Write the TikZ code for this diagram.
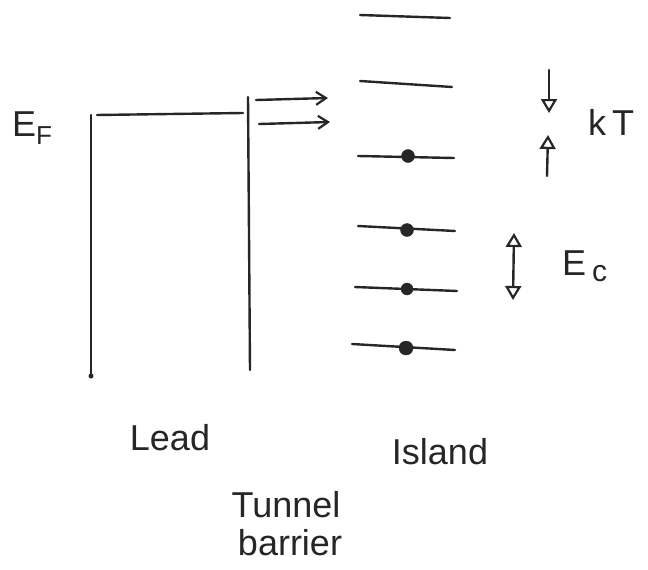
\documentclass[tikz,border=0pt]{standalone}
\usepackage{fontspec}
\setmainfont{Liberation Sans}
\usetikzlibrary{arrows.meta}
\begin{document}
\begin{tikzpicture}[x=1pt,y=-1pt,
  ink/.style={line width=2.4pt,draw=black!85,line cap=round},
  level/.style={ink},
  electron/.style={circle,fill=black!85,draw=black!85,inner sep=0pt,minimum size=13pt},
  inflow/.style={ink,-{Straight Barb[length=10pt,width=13pt,line width=2.2pt]}},
  gaparrow/.style={ink,-{Triangle[open,length=14pt,width=16pt,line width=2.2pt]}},
  lbl/.style={font=\fontsize{36}{38}\selectfont,text=black!85,inner sep=0pt}]
\useasboundingbox (0,0) rectangle (648,570);
% lead
\coordinate (lbl) at (91,376);
\coordinate (ltl) at (91,115);
\coordinate (ltr) at (243,113);
\coordinate (rtop) at (248,97);
\coordinate (rbot) at (250,370);
\draw[ink] (ltl) -- (lbl);
\fill[black!85] (lbl) circle (2.5);
\draw[ink] (97,115) -- (ltr);
\draw[ink] (rtop) -- (rbot);
% inflow arrows
\coordinate (a1s) at (256,100);
\coordinate (a1e) at (328,98);
\coordinate (a2s) at (259,124);
\coordinate (a2e) at (330,122);
\draw[inflow] (a1s) -- (a1e);
\draw[inflow] (a2s) -- (a2e);
% island levels
\foreach \n/\xa/\ya/\xb/\yb in {l1/360/15/450/18, l2/360/81/452/87, l3/358/156/454/158, l4/358/226/455/231, l5/355/287/457/291, l6/352/344/455/350}{
  \coordinate (\n a) at (\xa,\ya);
  \coordinate (\n b) at (\xb,\yb);
  \draw[level] (\n a) -- (\n b);
}
\node[electron] (e1) at (408,156) {};
\node[electron] (e2) at (407,230) {};
\node[electron,minimum size=12pt] (e3) at (407,289) {};
\node[electron,minimum size=14pt] (e4) at (406,348) {};
% kT arrows
\coordinate (k1s) at (549,70);
\coordinate (k1e) at (549,113);
\coordinate (k2s) at (547,176);
\coordinate (k2e) at (548,135);
\draw[gaparrow] (k1s) -- (k1e);
\draw[gaparrow] (k2s) -- (k2e);
\node[lbl,anchor=west] (kT) at (588,122) {k\,T};
% Ec arrow
\coordinate (c1) at (514,233);
\coordinate (c2) at (513,300);
\draw[ink,{Triangle[open,length=14pt,width=16pt,line width=2.2pt]}-{Triangle[open,length=14pt,width=16pt,line width=2.2pt]}] (c1) -- (c2);
\node[lbl,anchor=west] (Ec) at (562,266) {E\,\raisebox{-6pt}{\fontsize{30}{32}\selectfont c}};
% EF
\node[lbl,anchor=west] (EF) at (12,128) {E\raisebox{-8pt}{\fontsize{26}{28}\selectfont F}};
% labels
\node[lbl] (lead) at (170,438) {Lead};
\node[lbl] (island) at (440,452) {Island};
\node[lbl] (tunnel) at (286,505) {Tunnel};
\node[lbl] (barrier) at (290,543) {barrier};
\end{tikzpicture}
\end{document}
